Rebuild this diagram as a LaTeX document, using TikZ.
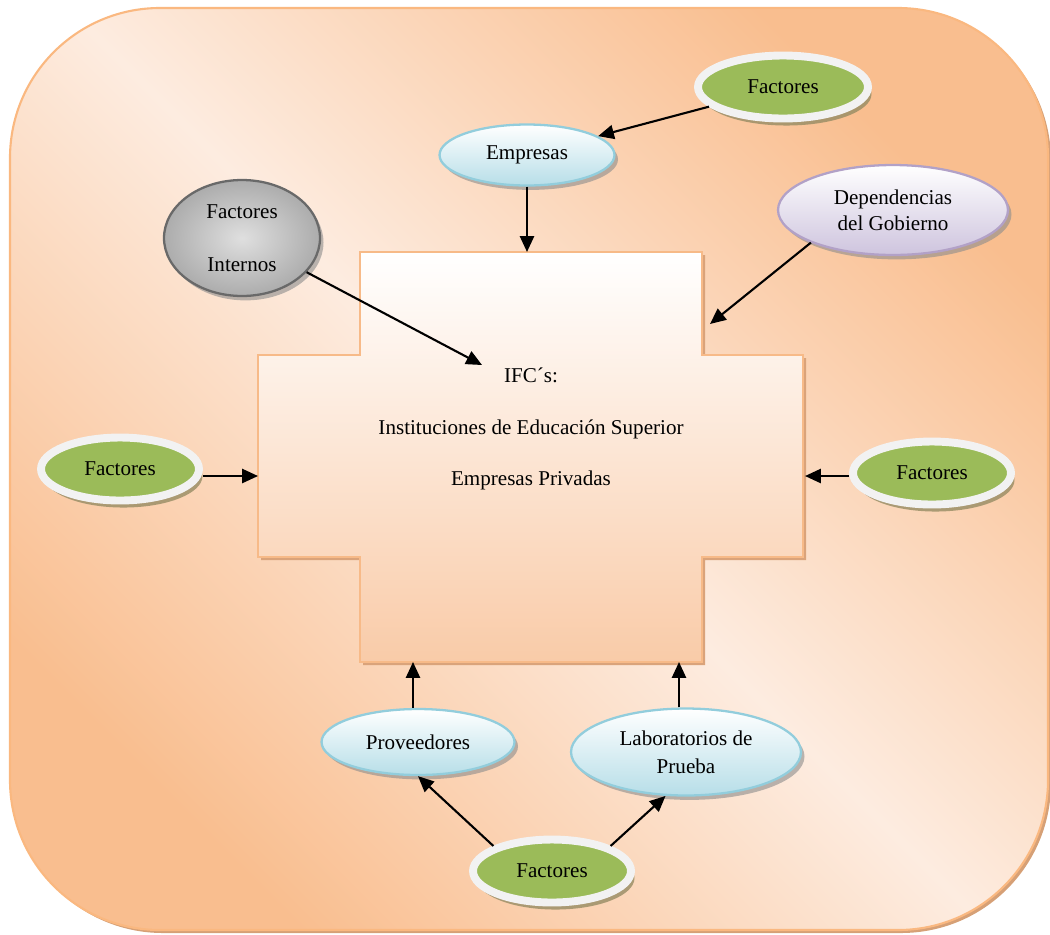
\documentclass[tikz,border=0pt]{standalone}
\usepackage{fontspec}
\setmainfont{Liberation Serif}
\usetikzlibrary{shapes.geometric, arrows.meta, shadows}
\definecolor{bgorange}{RGB}{249,190,143}
\definecolor{bglight}{RGB}{253,236,224}
\definecolor{bgline}{RGB}{250,184,128}
\definecolor{bgshadow}{RGB}{214,160,118}
\definecolor{crossbot}{RGB}{249,203,168}
\definecolor{crossline}{RGB}{247,186,136}
\definecolor{crossshadow}{RGB}{218,163,122}
\definecolor{bluefill}{RGB}{183,222,232}
\definecolor{blueline}{RGB}{146,205,220}
\definecolor{greenfill}{RGB}{155,187,89}
\definecolor{ringwhite}{RGB}{242,242,242}
\definecolor{greenshadow}{RGB}{150,140,100}
\definecolor{lilacfill}{RGB}{206,196,222}
\definecolor{lilacline}{RGB}{178,161,199}
\definecolor{greyline}{RGB}{105,105,105}
\tikzset{
  oval/.style={ellipse, draw=blueline, top color=white, bottom color=bluefill,
    align=center, inner sep=0pt, font=\fontsize{12}{16}\selectfont, line width=1.3pt,
    drop shadow={shadow xshift=2pt, shadow yshift=-2.5pt, fill=black!45, opacity=.6}},
  lilacoval/.style={oval, draw=lilacline, bottom color=lilacfill},
  greyoval/.style={ellipse, draw=greyline, inner color=gray!25, outer color=gray!65,
    align=center, inner sep=0pt, font=\fontsize{12}{16}\selectfont, line width=1.3pt,
    drop shadow={shadow xshift=2pt, shadow yshift=-2.5pt, fill=black!45, opacity=.6}},
  greenoval/.style={ellipse, draw=ringwhite, fill=greenfill,
    minimum width=3.16cm, minimum height=1.26cm, inner sep=0pt,
    font=\fontsize{12}{16}\selectfont, line width=4.5pt,
    drop shadow={shadow xshift=2pt, shadow yshift=-4pt, fill=greenshadow, opacity=.8}},
  arrow/.style={-{Triangle[length=9pt, width=8pt]}, line width=1.2pt, color=black}
}

\begin{document}
\begin{tikzpicture}[x=0.02cm, y=-0.02cm]
  \useasboundingbox (0,0) rectangle (1050,934);

  % background panel
  \fill[bgshadow, rounded corners=3cm] (13,11) rectangle (1051,933);
  \shade[rounded corners=3cm, top color=bgorange, bottom color=bgorange, middle color=bglight,
    shading angle=-45] (10,8) rectangle (1048,930);
  \draw[bgline, line width=1.2pt, rounded corners=3cm] (10,8) rectangle (1048,930);

  % cross
  \fill[crossshadow] (363,255) -- (705,255) -- (705,358) -- (806,358) -- (806,560) -- (705,560)
    -- (705,665) -- (363,665) -- (363,560) -- (261,560) -- (261,358) -- (363,358) -- cycle;
  \shade[top color=white, bottom color=crossbot, draw=crossline, line width=1.2pt]
    (360,252) -- (702,252) -- (702,355) -- (803,355) -- (803,557) -- (702,557)
    -- (702,662) -- (360,662) -- (360,557) -- (258,557) -- (258,355) -- (360,355) -- cycle;
  \node[align=center, font=\fontsize{12}{29.5}\selectfont] (ifc) at (531,429)
    {IFC´s:\\Instituciones de Educación Superior\\Empresas Privadas};

  \coordinate (crossN) at (527,252);
  \coordinate (ifcIn) at (482,365);
  \coordinate (govIn) at (710,324);
  \coordinate (crossW) at (258,476);
  \coordinate (crossE) at (805,476);
  \coordinate (crossS1) at (413,662);
  \coordinate (crossS2) at (679,662);

  % nodes
  \node[oval, minimum width=3.5cm, minimum height=1.22cm] (emp) at (527,155) {Empresas};
  \node[greenoval, minimum width=3.4cm] (fTop) at (783,87) {Factores};
  \node[greyoval, minimum width=3.12cm, minimum height=2.32cm] (intern) at (242,238)
    {Factores\\[14pt]Internos};
  \node[lilacoval, minimum width=4.6cm, minimum height=1.8cm, font=\fontsize{12}{15}\selectfont]
    (dep) at (893,210) {Dependencias\\del Gobierno};
  \node[greenoval] (fLeft) at (120,469) {Factores};
  \node[greenoval] (fRight) at (932,473) {Factores};
  \node[oval, minimum width=3.86cm, minimum height=1.32cm] (prov) at (418,742) {Proveedores};
  \node[oval, minimum width=4.6cm, minimum height=1.74cm] (lab) at (686,752)
    {Laboratorios de\\Prueba};
  \node[greenoval] (fBot) at (552,871) {Factores};

  % connectors
  \draw[arrow] (fTop) -- (emp);
  \draw[arrow] (emp) -- (crossN);
  \draw[arrow] (intern) -- (ifcIn);
  \draw[arrow] (dep.south west) -- (govIn);
  \draw[arrow] (fLeft.east |- crossW) -- (crossW);
  \draw[arrow] (fRight.west |- crossE) -- (crossE);
  \draw[arrow] (prov.north -| crossS1) -- (crossS1);
  \draw[arrow] (lab.north -| crossS2) -- (crossS2);
  \draw[arrow] (fBot.north west) -- (prov.south);
  \draw[arrow] (fBot.north east) -- (lab.245);
\end{tikzpicture}
\end{document}
